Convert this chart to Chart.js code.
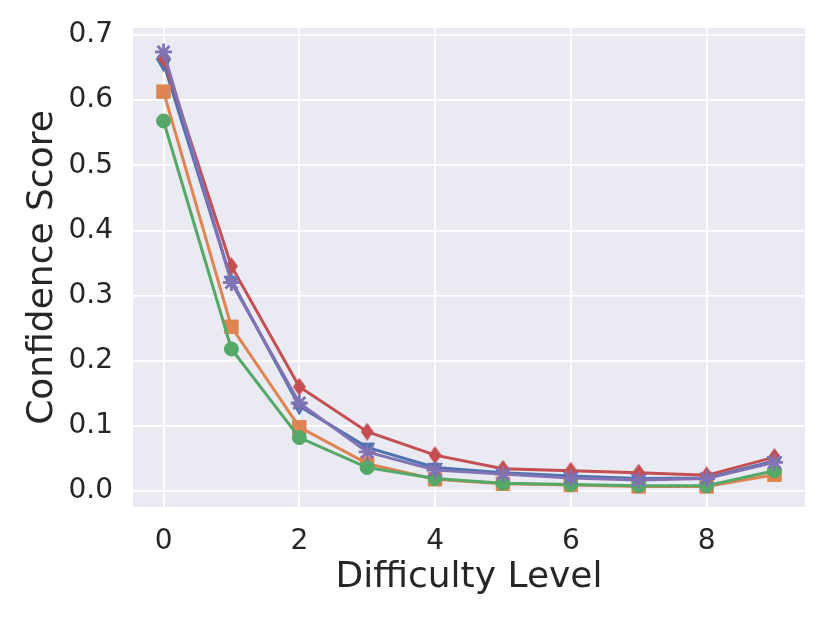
<!DOCTYPE html>
<html>
<head>
<meta charset="utf-8">
<script src="https://cdn.jsdelivr.net/npm/chart.js@4"></script>
<style>
  html, body { margin: 0; padding: 0; background: #fff; }
  #wrap { width: 830px; height: 623px; }
</style>
</head>
<body>
<div id="wrap"><canvas id="myChart" width="830" height="623"></canvas></div>
<script>
// difficulty levels on the x axis
const levels = [0, 1, 2, 3, 4, 5, 6, 7, 8, 9];
// confidence per series
const blueScores   = [0.657, 0.323, 0.130, 0.067, 0.036, 0.028, 0.023, 0.019, 0.020, 0.046];
const orangeScores = [0.613, 0.252, 0.098, 0.042, 0.018, 0.011, 0.009, 0.007, 0.007, 0.025];
const greenScores  = [0.568, 0.218, 0.082, 0.036, 0.019, 0.012, 0.010, 0.008, 0.008, 0.031];
const redScores    = [0.665, 0.345, 0.160, 0.091, 0.055, 0.034, 0.031, 0.028, 0.024, 0.052];
const purpleScores = [0.674, 0.320, 0.135, 0.060, 0.032, 0.026, 0.020, 0.017, 0.019, 0.044];
const xTicks = [0, 2, 4, 6, 8];
const yTicks = [0.0, 0.1, 0.2, 0.3, 0.4, 0.5, 0.6, 0.7];

const FONT = 'DejaVu Sans';
const TEXT = '#262626';

function thinDiamond(color) {
  const c = document.createElement('canvas');
  c.width = 13; c.height = 18;
  const g = c.getContext('2d');
  g.fillStyle = color;
  g.beginPath();
  g.moveTo(6.5, 0);
  g.lineTo(13, 9);
  g.lineTo(6.5, 18);
  g.lineTo(0, 9);
  g.closePath();
  g.fill();
  return c;
}

function points(values) {
  return levels.map((lv, i) => ({ x: lv, y: values[i] }));
}

function series(values, color, style, radius, order, extra) {
  return Object.assign({
    data: points(values),
    borderColor: color,
    backgroundColor: color,
    pointBackgroundColor: color,
    pointBorderColor: color,
    borderWidth: 3,
    pointStyle: style,
    pointRadius: radius,
    pointBorderWidth: 1,
    tension: 0,
    order: order
  }, extra || {});
}

const bgPlugin = {
  id: 'bg',
  beforeDraw(chart) {
    const a = chart.chartArea;
    const ctx = chart.ctx;
    ctx.save();
    ctx.fillStyle = '#EAEAF2';
    ctx.fillRect(a.left, a.top, a.right - a.left, a.bottom - a.top);
    ctx.restore();
  }
};

const ctx = document.getElementById('myChart');
new Chart(ctx, {
  type: 'line',
  data: {
    datasets: [
      series(blueScores, '#4C72B0', 'triangle', 8.5, 5, { pointRotation: 180 }),
      series(orangeScores, '#DD8452', 'rect', 9.5, 4),
      series(greenScores, '#55A868', 'circle', 7, 3),
      series(redScores, '#C44E52', thinDiamond('#C44E52'), 8, 2),
      series(purpleScores, '#8172B3', 'star', 8.5, 1, { pointBorderWidth: 2.8 })
    ]
  },
  options: {
    responsive: false,
    animation: false,
    devicePixelRatio: 1,
    layout: { padding: { top: 28, right: 25, left: 0, bottom: 0 } },
    plugins: { legend: { display: false }, tooltip: { enabled: false } },
    scales: {
      x: {
        type: 'linear',
        min: -0.45,
        max: 9.45,
        afterBuildTicks(scale) { scale.ticks = xTicks.map(v => ({ value: v })); },
        afterFit(scale) { scale.height = 116; scale.paddingLeft = 0; scale.paddingRight = 0; },
        grid: { color: '#ffffff', lineWidth: 1.8, drawTicks: false },
        border: { display: false },
        ticks: {
          padding: 18,
          color: TEXT,
          font: { family: FONT, size: 28 },
          callback: v => String(v)
        },
        title: {
          display: true,
          text: 'Difficulty Level',
          color: TEXT,
          font: { family: FONT, size: 36 },
          padding: { top: 0, bottom: 24 }
        }
      },
      y: {
        min: -0.0246,
        max: 0.7107,
        afterBuildTicks(scale) { scale.ticks = yTicks.map(v => ({ value: v })); },
        afterFit(scale) { scale.width = 133; scale.paddingTop = 0; scale.paddingBottom = 0; },
        grid: { color: '#ffffff', lineWidth: 1.8, drawTicks: false },
        border: { display: false },
        ticks: {
          padding: 20,
          color: TEXT,
          font: { family: FONT, size: 28 },
          callback: v => v.toFixed(1)
        },
        title: {
          display: true,
          text: 'Confidence Score',
          color: TEXT,
          font: { family: FONT, size: 36 },
          padding: { top: 21, bottom: 0 }
        }
      }
    }
  },
  plugins: [bgPlugin]
});
</script>
</body>
</html>
